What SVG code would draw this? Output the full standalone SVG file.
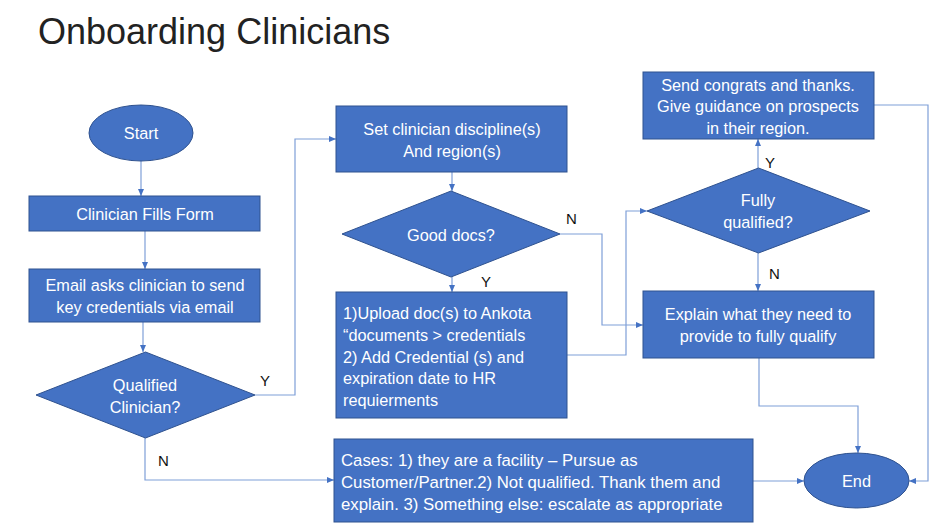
<svg xmlns="http://www.w3.org/2000/svg" width="939" height="532" viewBox="0 0 939 532">
<style>
.box{fill:#4472C4;stroke:#2F528F;stroke-width:1}
.t{font-family:"Liberation Sans",Arial,sans-serif;font-size:16.3px;fill:#FFFFFF}
.c{text-anchor:middle}
.cs{font-size:16.8px}
.lbl{font-family:"Liberation Sans",Arial,sans-serif;font-size:15px;fill:#111111}
.conn path{fill:none;stroke:#7F9FD8;stroke-width:1.2;marker-end:url(#ah)}
</style>
<defs>
<marker id="ah" markerWidth="7" markerHeight="6" refX="7" refY="3" orient="auto" markerUnits="userSpaceOnUse">
<path d="M0,0 L7,3 L0,6 Z" fill="#4472C4"/>
</marker>
</defs>
<rect width="939" height="532" fill="#FFFFFF"/>
<text x="38" y="44" font-family="Liberation Sans,Arial,sans-serif" font-size="36" fill="#222222">Onboarding Clinicians</text>

<g class="conn" id="connectors">
<path d="M141,161 V196"/>
<path d="M145,231 V269"/>
<path d="M143,322 V352"/>
<path d="M255,395 H295 V139 H336"/>
<path d="M145,438 V480 H334"/>
<path d="M452,172 V191"/>
<path d="M452,277 V292"/>
<path d="M560,234 H602 V325 H643"/>
<path d="M567,355 H626 V211 H647"/>
<path d="M758,168 V139"/>
<path d="M758,253 V291"/>
<path d="M759,358 V406 H858 V453"/>
<path d="M874,105 H928 V481 H909"/>
<path d="M753,481 H804"/>
</g>

<g id="labels">
<text class="lbl" x="260" y="386">Y</text>
<text class="lbl" x="158" y="466">N</text>
<text class="lbl" x="481" y="287">Y</text>
<text class="lbl" x="566" y="224">N</text>
<text class="lbl" x="765" y="168">Y</text>
<text class="lbl" x="769" y="279">N</text>
</g>

<g id="start">
<ellipse class="box" cx="141" cy="133" rx="52" ry="28"/>
<text class="t c" x="141" y="139">Start</text>
</g>
<g id="fills-form">
<rect class="box" x="29" y="196" width="231" height="35"/>
<text class="t c" x="145" y="220">Clinician Fills Form</text>
</g>
<g id="email">
<rect class="box" x="29" y="269" width="231" height="53"/>
<text class="t c" x="145" y="291">Email asks clinician to send</text>
<text class="t c" x="145" y="313">key credentials via email</text>
</g>
<g id="qualified">
<polygon class="box" points="145.5,352 255,395 145.5,438 36,395"/>
<text class="t c" x="145" y="391">Qualified</text>
<text class="t c" x="145" y="413">Clinician?</text>
</g>
<g id="set-discipline">
<rect class="box" x="336" y="106" width="231" height="66"/>
<text class="t c" x="452" y="135">Set clinician discipline(s)</text>
<text class="t c" x="452" y="157">And region(s)</text>
</g>
<g id="good-docs">
<polygon class="box" points="451,191 560,234 451,277 342,234"/>
<text class="t c" x="451" y="241">Good docs?</text>
</g>
<g id="upload">
<rect class="box" x="336" y="292" width="231" height="126"/>
<text class="t" x="343" y="319">1)Upload doc(s) to Ankota</text>
<text class="t" x="343" y="341">“documents &gt; credentials</text>
<text class="t" x="343" y="363">2) Add Credential (s) and</text>
<text class="t" x="343" y="384">expiration date to HR</text>
<text class="t" x="343" y="406">requierments</text>
</g>
<g id="send-congrats">
<rect class="box" x="643" y="72" width="231" height="67"/>
<text class="t c" x="758" y="91">Send congrats and thanks.</text>
<text class="t c" x="758" y="112">Give guidance on prospects</text>
<text class="t c" x="758" y="134">in their region.</text>
</g>
<g id="fully-qualified">
<polygon class="box" points="758.5,168 870,211 758.5,253 647,211"/>
<text class="t c" x="758" y="206">Fully</text>
<text class="t c" x="758" y="228">qualified?</text>
</g>
<g id="explain">
<rect class="box" x="643" y="291" width="231" height="67"/>
<text class="t c" x="758" y="320">Explain what they need to</text>
<text class="t c" x="758" y="342">provide to fully qualify</text>
</g>
<g id="cases">
<rect class="box" x="334" y="439" width="419" height="83"/>
<text class="t cs" x="341" y="466">Cases: 1) they are a facility – Pursue as</text>
<text class="t cs" x="341" y="488">Customer/Partner.2) Not qualified. Thank them and</text>
<text class="t cs" x="341" y="510">explain. 3) Something else: escalate as appropriate</text>
</g>
<g id="end">
<ellipse class="box" cx="856.5" cy="480.5" rx="52.5" ry="27.5"/>
<text class="t c" x="856.5" y="487">End</text>
</g>
</svg>
